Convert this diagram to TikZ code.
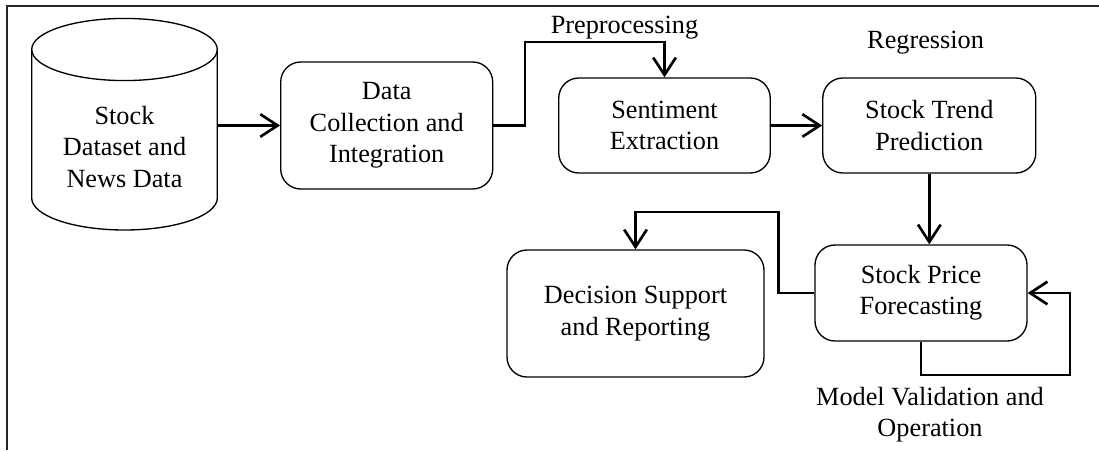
\documentclass[tikz,border=0pt]{standalone}
\usepackage{fontspec}
\setmainfont{Liberation Serif}
\usetikzlibrary{arrows.meta}
\tikzset{
  box/.style={draw, line width=1pt, rounded corners=15pt, align=center, inner sep=0pt,
    font=\fontsize{19.7}{23.5}\selectfont},
  lbl/.style={align=center, inner sep=0pt, font=\fontsize{19.7}{23.5}\selectfont},
  conn/.style={line width=2pt, line join=miter, -{Straight Barb[length=13pt,width=17pt]}},
  frame/.style={line width=1.5pt, draw=black!85}
}
\begin{document}
\begin{tikzpicture}[x=0.75pt,y=-0.75pt]
\useasboundingbox (0,0) rectangle (1099,450);
% frame
\draw[frame] (7,450) -- (7,6) -- (1099,6);
% cylinder
\draw[line width=1pt] (124.5,49.5) ellipse [x radius=69.6pt, y radius=23.3pt];
\draw[line width=1pt] (31.7,49.5) -- (31.7,198)
  arc[start angle=180, end angle=360, x radius=69.6pt, y radius=24pt]
  -- (217.3,49.5);
\node[lbl, minimum width=139.2pt] (db) at (124.5,147) {Stock\\Dataset and\\News Data};
% boxes
\node[box, minimum width=159pt, minimum height=95.25pt] (dc) at (386.7,125.5) {Data\\Collection and\\Integration};
\node[box, minimum width=158.6pt, minimum height=71.25pt] (se) at (664.5,125.5) {Sentiment\\Extraction};
\node[box, minimum width=159.75pt, minimum height=71.25pt] (tp) at (929.3,125.5) {Stock Trend\\Prediction};
\node[box, minimum width=159pt, minimum height=72pt] (fc) at (921,293) {Stock Price\\Forecasting};
\node[box, minimum width=192.75pt, minimum height=95.25pt] (ds) at (635.5,313.5) {Decision Support\\and Reporting};
% labels
\node[lbl] (pre) at (624.5,28) {Preprocessing};
\node[lbl] (reg) at (925.6,43) {Regression};
\node[lbl] (mv) at (930,415) {Model Validation and\\Operation};
% connectors
\coordinate (p1) at (525,42);
\coordinate (q1) at (778.7,212);
\coordinate (r1) at (1070,375);
\draw[conn] (db.east |- dc.west) -- (dc.west);
\draw[conn] (dc.east) -| (p1) -| (se.north);
\draw[conn] (se.east) -- (tp.west);
\draw[conn] (tp.south) -- (tp.south |- fc.north);
\draw[conn] (fc.west) -| (q1) -| (ds.north);
\draw[conn] (fc.south) |- (r1) |- (fc.east);
\end{tikzpicture}
\end{document}
